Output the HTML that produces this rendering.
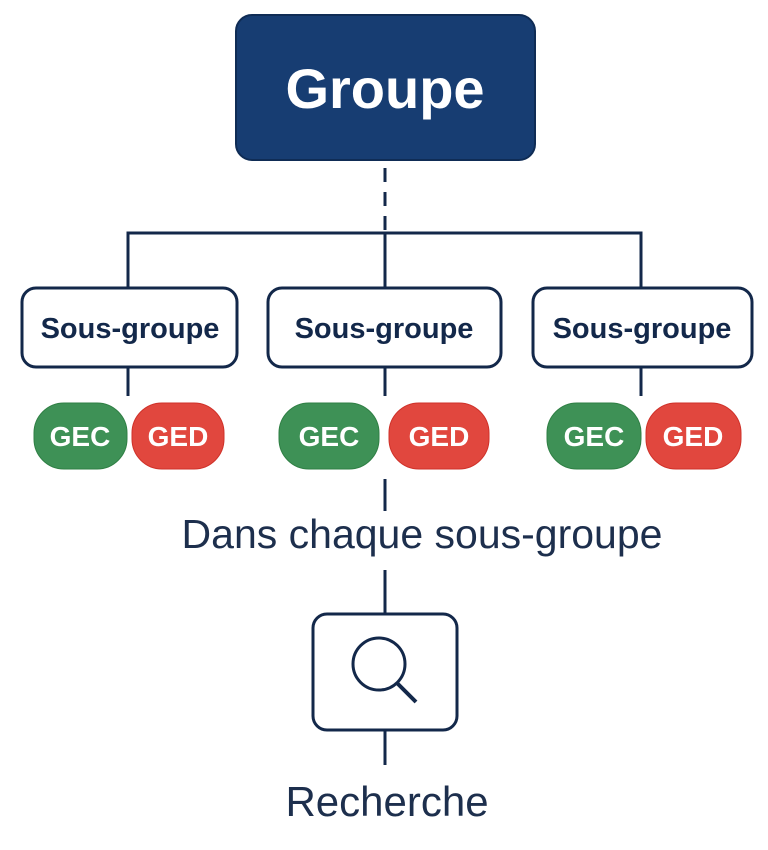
<!DOCTYPE html>
<html><head><meta charset="utf-8"><style>
html,body{margin:0;padding:0;background:#fff;}
svg{display:block;}
text{font-family:"Liberation Sans",sans-serif;}
</style></head><body>
<svg width="768" height="850" viewBox="0 0 768 850">
<g stroke="#13284a" stroke-width="3" fill="none">
<line x1="385" y1="168" x2="385" y2="235" stroke-dasharray="14,10"/>
<polyline points="128,287 128,233 641,233 641,287"/>
<line x1="385" y1="233" x2="385" y2="287"/>
<line x1="128" y1="367" x2="128" y2="396"/>
<line x1="385" y1="367" x2="385" y2="396"/>
<line x1="641" y1="367" x2="641" y2="396"/>
<line x1="385" y1="479" x2="385" y2="511"/>
<line x1="385" y1="570" x2="385" y2="614"/>
<line x1="385" y1="730" x2="385" y2="765"/>
<rect x="22" y="288" width="215" height="79" rx="14" fill="#fff"/>
<rect x="268" y="288" width="233" height="79" rx="14" fill="#fff"/>
<rect x="533" y="288" width="219" height="79" rx="14" fill="#fff"/>
<rect x="313" y="614" width="144" height="116" rx="14" fill="#fff"/>
<circle cx="379" cy="664" r="26"/>
<line x1="397" y1="683" x2="416" y2="702" stroke-width="4"/>
</g>
<rect x="236" y="15" width="299" height="145" rx="16" fill="#173d72" stroke="#0f2c55" stroke-width="2"/>
<text x="385" y="108" font-size="56" font-weight="bold" fill="#fff" text-anchor="middle">Groupe</text>
<g font-size="29" fill="#13284a" text-anchor="middle" font-weight="bold">
<text x="130" y="338">Sous-groupe</text>
<text x="384" y="338">Sous-groupe</text>
<text x="642" y="338">Sous-groupe</text>
</g>
<g fill="#3e9156" stroke="#2f7f44" stroke-width="1">
<rect x="34" y="403" width="93" height="66" rx="30"/>
<rect x="279" y="403" width="100" height="66" rx="30"/>
<rect x="547" y="403" width="94" height="66" rx="30"/>
</g>
<g fill="#e1473e" stroke="#cf3129" stroke-width="1">
<rect x="132" y="403" width="92" height="66" rx="30"/>
<rect x="389" y="403" width="100" height="66" rx="30"/>
<rect x="646" y="403" width="95" height="66" rx="30"/>
</g>
<g font-size="28" font-weight="bold" fill="#fff" text-anchor="middle">
<text x="80" y="446">GEC</text><text x="178" y="446">GED</text>
<text x="329" y="446">GEC</text><text x="439" y="446">GED</text>
<text x="594" y="446">GEC</text><text x="693" y="446">GED</text>
</g>
<text x="422" y="548" font-size="41" fill="#1d2f4d" text-anchor="middle">Dans chaque sous-groupe</text>
<text x="387" y="816" font-size="42" fill="#1d2f4d" text-anchor="middle">Recherche</text>
</svg>
</body></html>
